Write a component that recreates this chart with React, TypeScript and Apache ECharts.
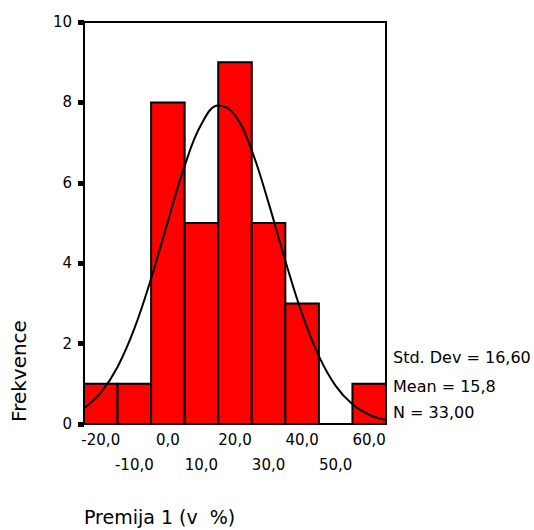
import React, { useEffect, useRef } from "react";
import * as echarts from "echarts";

// Histogram bins (centre of each 10-wide bin) and frequencies
const binCenters = [-20, -10, 0, 10, 20, 30, 40, 50, 60];
const counts = [1, 1, 8, 5, 9, 5, 3, 0, 1];

// Normal curve at steps of 5
const curveX = [-25, -20, -15, -10, -5, 0, 5, 10, 15, 20, 25, 30, 35, 40, 45, 50, 55, 60, 65];
const curveY = [0.39, 0.78, 1.42, 2.37, 3.62, 5.04, 6.42, 7.46, 7.92, 7.68, 6.8, 5.5, 4.06, 2.74, 1.69, 0.95, 0.49, 0.23, 0.1];

const statsLines = ["Std. Dev = 16,60", "Mean = 15,8", "N = 33,00"];
const yTitle = "Frekvence";
const xTitle = "Premija 1 (v  %)";

const FONT = "DejaVu Sans";

export default function App() {
  const ref = useRef<HTMLDivElement>(null);
  useEffect(() => {
    document.body.style.margin = "0";
    if (!ref.current) return;
    const chart = echarts.init(ref.current, null, { renderer: "svg" });
    const fmt = (v: number) => v.toFixed(1).replace(".", ",");
    const xBase = {
      type: "value",
      min: -25,
      max: 65,
      interval: 5,
      axisLine: { show: false, onZero: false },
      axisTick: { show: false },
      splitLine: { show: false },
    };
    chart.setOption({
      animation: false,
      backgroundColor: "#fff",
      textStyle: { fontFamily: FONT },
      grid: {
        left: 84,
        right: 148,
        top: 22,
        bottom: 106,
        show: true,
        borderColor: "#000",
        borderWidth: 2,
        backgroundColor: "transparent",
      },
      xAxis: [
        {
          ...xBase,
          axisLabel: {
            color: "#000",
            fontSize: 15,
            fontFamily: FONT,
            margin: 8,
            formatter: (v: number) => (v % 20 === 0 ? fmt(v) : ""),
          },
        },
        {
          ...xBase,
          position: "bottom",
          axisLabel: {
            color: "#000",
            fontSize: 15,
            fontFamily: FONT,
            margin: 33,
            formatter: (v: number) => ((((v % 20) + 20) % 20) === 10 ? fmt(v) : ""),
          },
        },
      ],
      yAxis: {
        type: "value",
        min: 0,
        max: 10,
        interval: 2,
        axisLine: { show: true, onZero: false, lineStyle: { color: "#000", width: 2 } },
        axisTick: { show: true, length: 6, lineStyle: { color: "#000", width: 5 } },
        splitLine: { show: false },
        axisLabel: { color: "#000", fontSize: 15, fontFamily: FONT, margin: 12 },
      },
      series: [
        {
          type: "custom",
          xAxisIndex: 0,
          data: binCenters.map((c, i) => [c, counts[i]]),
          renderItem: (params: any, api: any) => {
            const c = api.value(0);
            const v = api.value(1);
            if (!v) return null;
            const p0 = api.coord([c - 5, v]);
            const p1 = api.coord([c + 5, 0]);
            return {
              type: "rect",
              shape: { x: p0[0], y: p0[1], width: p1[0] - p0[0], height: p1[1] - p0[1] },
              style: { fill: "#ff0000", stroke: "#000", lineWidth: 2 },
            };
          },
          z: 2,
        },
        {
          type: "line",
          xAxisIndex: 0,
          data: curveX.map((x, i) => [x, curveY[i]]),
          smooth: 0.4,
          showSymbol: false,
          lineStyle: { color: "#000", width: 2 },
          z: 3,
        },
      ],
      graphic: [
        ...statsLines.map((t, i) => ({
          type: "text",
          left: 393,
          top: [358, 387.5, 413][i] - 9,
          style: { text: t, font: `16px '${FONT}'`, fill: "#000" },
        })),
        {
          type: "text",
          left: 84,
          top: 507,
          style: { text: xTitle, font: `19px '${FONT}'`, fill: "#000" },
        },
        {
          type: "text",
          x: 19,
          y: 371,
          rotation: Math.PI / 2,
          style: {
            text: yTitle,
            font: `20px '${FONT}'`,
            fill: "#000",
            align: "center",
            verticalAlign: "middle",
          },
        },
      ],
    });
    return () => chart.dispose();
  }, []);
  return <div ref={ref} style={{ width: 534, height: 530 }} />;
}
